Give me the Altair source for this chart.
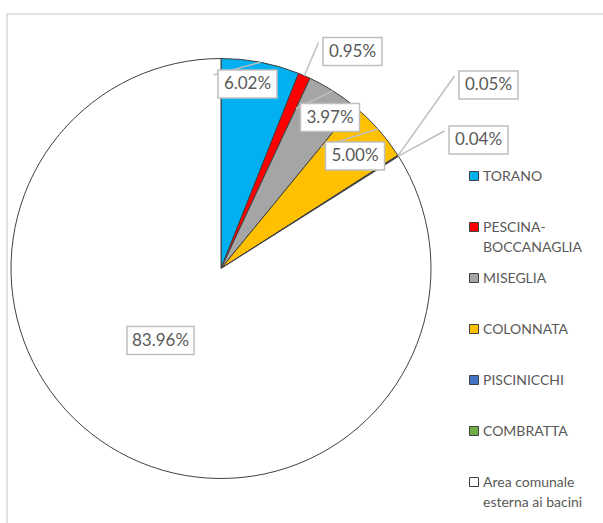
import math
import altair as alt
import pandas as pd

# Share of the municipal area covered by each quarry basin (%)
categories = [
    "TORANO",
    "PESCINA-BOCCANAGLIA",
    "MISEGLIA",
    "COLONNATA",
    "PISCINICCHI",
    "COMBRATTA",
    "Area comunale esterna ai bacini",
]
shares = [6.02, 0.95, 3.97, 5.00, 0.05, 0.04, 83.96]
colors = ["#00B0F0", "#FF0000", "#A5A5A5", "#FFC000", "#4472C4", "#70AD47", "#FFFFFF"]
legend_lines = [
    ["TORANO"],
    ["PESCINA-", "BOCCANAGLIA"],
    ["MISEGLIA"],
    ["COLONNATA"],
    ["PISCINICCHI"],
    ["COMBRATTA"],
    ["Area comunale", "esterna ai bacini"],
]

# Layout
W, H = 603, 523
CX, CY, R = 221, 268.5, 210
TEXT_GREY = "#595959"
BOX_GREY = "#BFBFBF"
FONT = "Lato"
# centres of the percentage boxes
label_centres = {
    "TORANO": (247.5, 84),
    "PESCINA-BOCCANAGLIA": (352.5, 51.5),
    "MISEGLIA": (330, 117.5),
    "COLONNATA": (355, 156),
    "PISCINICCHI": (488.5, 85),
    "COMBRATTA": (478.5, 140),
    "Area comunale esterna ai bacini": (160.5, 340.5),
}
with_leader = {"TORANO", "PESCINA-BOCCANAGLIA", "MISEGLIA", "COLONNATA",
               "PISCINICCHI", "COMBRATTA"}
LEGEND_TOP, LEGEND_STEP = 176, 51
LEGEND_SYMBOL_X, LEGEND_TEXT_X = 474, 483

pie = pd.DataFrame({"cat": categories, "share": shares, "order": range(len(categories))})

# percentage labels, boxes and leader lines
rows = []
cum = 0.0
for cat, s in zip(categories, shares):
    mid = (cum + s / 2) / 100 * 2 * math.pi
    cum += s
    txt = f"{s:.2f}%"
    cx, cy = label_centres[cat]
    bw, bh = 8 * len(txt) + 19, 28
    rows.append({
        "cat": cat, "txt": txt, "cx": cx, "cy": cy,
        "x1": cx - bw / 2, "x2": cx + bw / 2, "y1": cy - bh / 2, "y2": cy + bh / 2,
        "ax": CX + R * math.sin(mid), "ay": CY - R * math.cos(mid),
        "lx": cx - 34, "ly": cy - 9, "lead": cat in with_leader,
    })
labels = pd.DataFrame(rows)
leaders = labels[labels["lead"]]

legend = pd.DataFrame({
    "cat": categories,
    "lines": legend_lines,
    "col": colors,
    "ly": [LEGEND_TOP + i * LEGEND_STEP for i in range(len(categories))],
})

frame = alt.Chart(pd.DataFrame({"a": [0]})).mark_rect(
    fill=None, stroke="#D9D9D9", strokeWidth=1.5
).encode(x=alt.value(7), x2=alt.value(W + 20), y=alt.value(14), y2=alt.value(H + 20))

slices = alt.Chart(pie).mark_arc(
    radius=R, stroke="#404040", strokeWidth=1
).encode(
    theta=alt.Theta("share:Q", stack=True),
    order=alt.Order("order:Q"),
    color=alt.Color("cat:N", scale=alt.Scale(domain=categories, range=colors), legend=None),
    x=alt.value(CX),
    y=alt.value(CY),
)

lines = alt.Chart(leaders).mark_rule(color=BOX_GREY, strokeWidth=1.5).encode(
    x=alt.X("ax:Q", scale=None), y=alt.Y("ay:Q", scale=None),
    x2="lx:Q", y2="ly:Q",
)

boxes = alt.Chart(labels).mark_rect(fill="white", stroke=BOX_GREY, strokeWidth=1.5).encode(
    x=alt.X("x1:Q", scale=None), x2="x2:Q",
    y=alt.Y("y1:Q", scale=None), y2="y2:Q",
)

texts = alt.Chart(labels).mark_text(
    font=FONT, fontSize=17, color=TEXT_GREY, align="center", baseline="middle"
).encode(
    x=alt.X("cx:Q", scale=None), y=alt.Y("cy:Q", scale=None), text="txt:N",
)

legend_sym = alt.Chart(legend).mark_square(
    size=81, stroke="#404040", strokeWidth=1, opacity=1
).encode(
    x=alt.value(LEGEND_SYMBOL_X),
    y=alt.Y("ly:Q", scale=None),
    fill=alt.Fill("col:N", scale=None),
)

legend_txt = alt.Chart(legend).mark_text(
    font=FONT, fontSize=14, color=TEXT_GREY, align="left", baseline="alphabetic",
    dy=5, lineHeight=20,
).encode(
    x=alt.value(LEGEND_TEXT_X),
    y=alt.Y("ly:Q", scale=None),
    text="lines",
)

chart = alt.layer(
    frame, slices, lines, boxes, texts, legend_sym, legend_txt
).properties(
    width=W, height=H, padding=0, autosize="none", background="white"
).configure_view(stroke=None)

chart.save("out.html", embed_options={"renderer": "svg", "actions": False})
